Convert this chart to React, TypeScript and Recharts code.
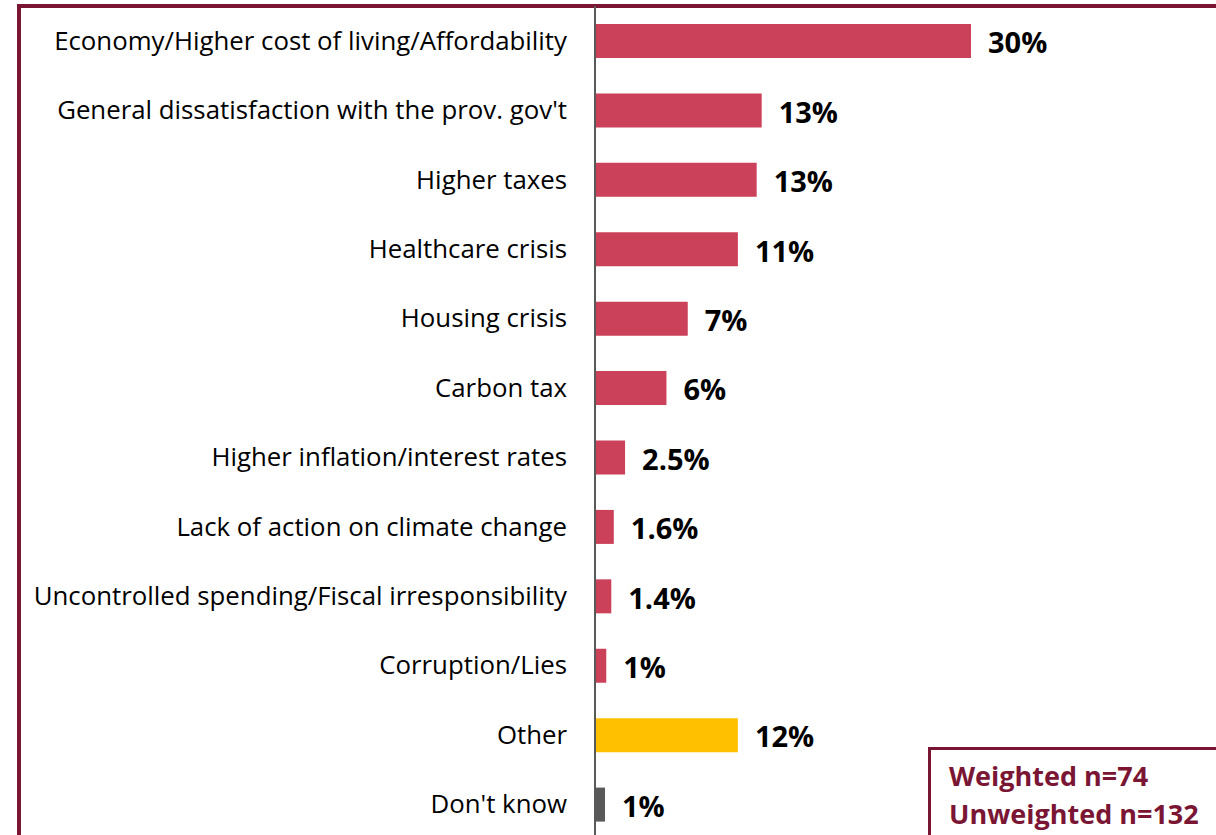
import { Bar, BarChart, Cell, LabelList, XAxis, YAxis } from "recharts";

const categories = [
  "Economy/Higher cost of living/Affordability",
  "General dissatisfaction with the prov. gov't",
  "Higher taxes",
  "Healthcare crisis",
  "Housing crisis",
  "Carbon tax",
  "Higher inflation/interest rates",
  "Lack of action on climate change",
  "Uncontrolled spending/Fiscal irresponsibility",
  "Corruption/Lies",
  "Other",
  "Don't know",
];
const values = [30, 13.3, 12.9, 11.4, 7.4, 5.7, 2.4, 1.5, 1.3, 0.9, 11.4, 0.8];
const valueLabels = ["30%", "13%", "13%", "11%", "7%", "6%", "2.5%", "1.6%", "1.4%", "1%", "12%", "1%"];
const colors = [
  "#CC415A", "#CC415A", "#CC415A", "#CC415A", "#CC415A", "#CC415A",
  "#CC415A", "#CC415A", "#CC415A", "#CC415A", "#FFC000", "#595959",
];

const data = categories.map((name, i) => ({
  name,
  value: values[i],
  label: valueLabels[i],
  color: colors[i],
}));

const FONT = "'Open Sans', sans-serif";
const MAROON = "#7A1634";

const CategoryTick = (props: any) => {
  const { y, payload } = props;
  return (
    <text x={567} y={y} dy={9} textAnchor="end" fontSize={25.8} fill="#000" fontFamily={FONT}>
      {payload.value}
    </text>
  );
};

export default function App() {
  return (
    <div
      style={{
        position: "fixed",
        left: 0,
        top: 0,
        width: 1216,
        height: 835,
        overflow: "hidden",
        background: "#fff",
        fontFamily: FONT,
      }}
    >
      <div
        style={{
          position: "absolute",
          left: 17,
          top: 4,
          width: 1300,
          height: 900,
          border: `4px solid ${MAROON}`,
          boxSizing: "border-box",
        }}
      />
      <div style={{ position: "absolute", left: 0, top: 0 }}>
        <BarChart
          width={1216}
          height={845}
          data={data}
          layout="vertical"
          margin={{ top: 6, right: 245, bottom: 6, left: 0 }}
        >
          <XAxis type="number" domain={[0, 30]} hide />
          <YAxis
            type="category"
            dataKey="name"
            width={595}
            axisLine={{ stroke: "#595959", strokeWidth: 2 }}
            tickLine={false}
            tick={<CategoryTick />}
            interval={0}
          />
          <Bar dataKey="value" barSize={34} isAnimationActive={false}>
            {data.map((d, i) => (
              <Cell key={i} fill={d.color} />
            ))}
            <LabelList
              dataKey="label"
              position="right"
              offset={17}
              dy={2}
              fill="#000"
              fontSize={29}
              fontWeight={700}
              fontFamily={FONT}
            />
          </Bar>
        </BarChart>
      </div>
      <div
        style={{
          position: "absolute",
          left: 928,
          top: 747,
          width: 400,
          height: 200,
          border: `3px solid ${MAROON}`,
          boxSizing: "border-box",
          padding: "7px 0 0 18px",
          color: MAROON,
          fontWeight: 700,
          fontSize: 27,
          lineHeight: "38px",
        }}
      >
        <div>Weighted n=74</div>
        <div>Unweighted n=132</div>
      </div>
    </div>
  );
}
